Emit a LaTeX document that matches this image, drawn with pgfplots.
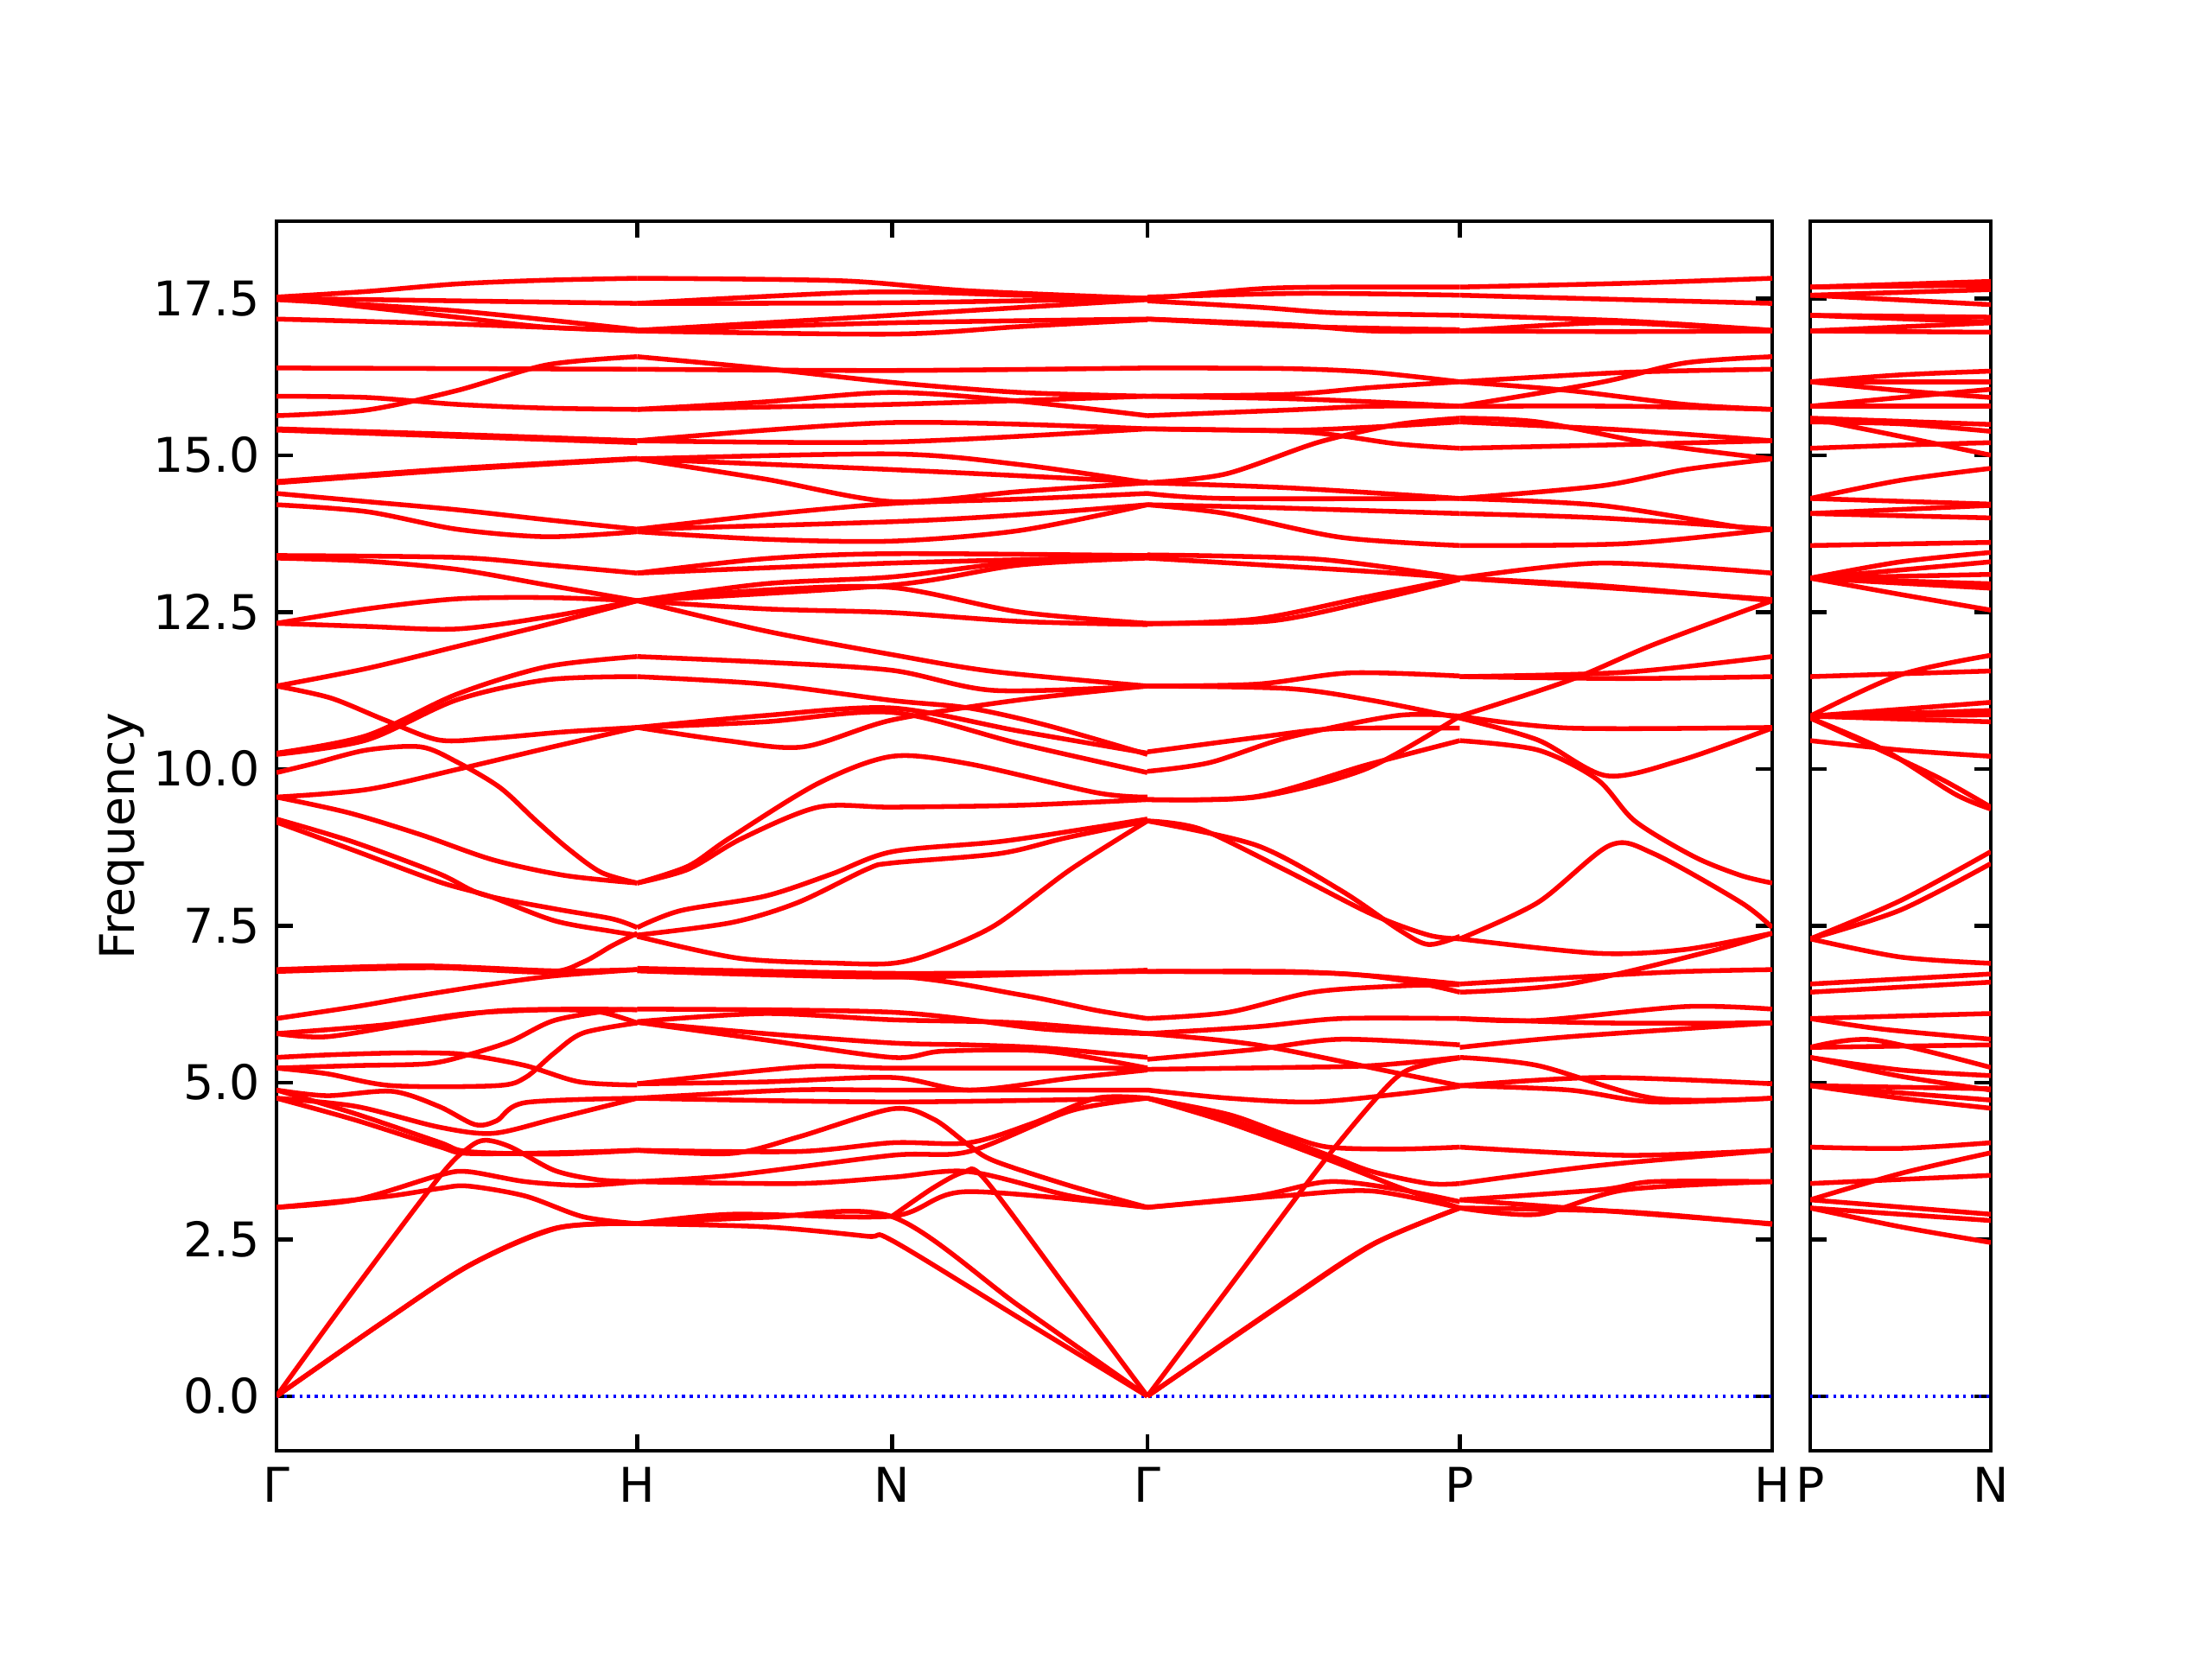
\documentclass[border=0pt]{standalone}
\usepackage{fontspec}
\setmainfont{DejaVu Sans}
\usepackage{pgfplots}
\pgfplotsset{compat=1.18}
\usetikzlibrary{calc}
\pgfplotsset{
  s1/.style={},
  s23/.style={x filter/.expression={1+0.707107*x}},
  s4/.style={x filter/.expression={2.414214+0.866025*x}},
  s5/.style={x filter/.expression={3.280239+0.866025*x}},
  s6/.style={x filter/.expression={0.5*x}},
  bandax/.style={
    scale only axis, height=3.5575in,
    ymin=-0.87, ymax=18.73,
    ytick={0,2.5,5,7.5,10,12.5,15,17.5},
    tick align=inside, xtick pos=both, ytick pos=both,
    xticklabel pos=lower, yticklabel pos=left,
    major tick length=3.5pt,
    tick style={black, line width=0.8pt},
    axis line style={line width=0.8pt},
    every axis plot/.append style={red, line width=1pt, smooth, mark=none},
    /pgf/number format/assume math mode=true,
    y tick label style={/pgf/number format/.cd, fixed, fixed zerofill, precision=1, /tikz/.cd},
    tick label style={font=\fontsize{10}{12}\selectfont},
    label style={font=\fontsize{10}{12}\selectfont},
  }
}
\newcommand\A[1]{\addplot[s1] coordinates {#1};}
\newcommand\B[1]{\addplot[s23] coordinates {#1};}
\newcommand\C[1]{\addplot[s4] coordinates {#1};}
\newcommand\D[1]{\addplot[s5] coordinates {#1};}
\newcommand\E[1]{\addplot[s6] coordinates {#1};}
\begin{document}
\begin{tikzpicture}
\begin{axis}[bandax, name=main, width=4.3275in,
  xmin=0, xmax=4.146264,
  xtick={0,1,1.707107,2.414214,3.280239,4.146264},
  xticklabels={Γ,H,N,Γ,P,H},
  ylabel={Frequency}, ylabel shift=-5pt]
\addplot[blue, line width=0.6pt, dash pattern=on 0.6pt off 1pt, sharp plot] coordinates {(0,0) (4.146264,0)};
% ---- Gamma -> H
\A{(0,17.52) (0.25,17.61) (0.5,17.73) (0.75,17.79) (1,17.82)}
\A{(0,17.50) (0.5,17.46) (1,17.42)}
\A{(0,17.52) (0.25,17.36) (0.5,17.2) (0.75,17.04) (1,16.99)}
\A{(0,17.17) (0.5,17.09) (1,16.98)}
\A{(0,17.48) (0.5,17.30) (1,17.0)}
\A{(0,16.39) (0.5,16.38) (1,16.37)}
\A{(0,15.63) (0.25,15.72) (0.5,16.03) (0.75,16.44) (1,16.57)}
\A{(0,15.94) (0.25,15.92) (0.5,15.81) (0.75,15.75) (1,15.73)}
\A{(0,15.42) (0.5,15.33) (1,15.23)}
\A{(0,15.40) (0.5,15.30) (1,15.20)}
\A{(0,14.56) (0.5,14.77) (1,14.94)}
\A{(0,14.58) (0.5,14.79) (1,14.95)}
\A{(0,14.39) (0.25,14.26) (0.5,14.13) (0.75,13.97) (1,13.82)}
\A{(0,14.21) (0.25,14.10) (0.5,13.82) (0.75,13.70) (1,13.78)}
\A{(0,13.40) (0.5,13.37) (0.75,13.25) (1,13.12)}
\A{(0,13.36) (0.25,13.31) (0.5,13.18) (0.75,12.93) (1,12.68)}
\A{(0,12.32) (0.25,12.55) (0.5,12.71) (0.75,12.73) (1,12.68)}
\A{(0,12.32) (0.25,12.27) (0.5,12.23) (0.75,12.42) (1,12.68)}
\A{(0,11.32) (0.25,11.6) (0.5,11.95) (0.75,12.3) (1,12.68)}
\A{(0,11.32) (0.15,11.13) (0.3,10.78) (0.45,10.46) (0.6,10.49) (0.8,10.59) (1,10.66)}
\A{(0,9.94) (0.1,10.08) (0.25,10.30) (0.4,10.35) (0.5,10.11) (0.62,9.70) (0.72,9.17) (0.81,8.72) (0.9,8.35) (1,8.18)}
\A{(0,10.23) (0.25,10.46) (0.5,11.1) (0.75,11.42) (1,11.47)}
\A{(0,10.25) (0.25,10.53) (0.5,11.19) (0.75,11.63) (1,11.79)}
\A{(0,9.55) (0.25,9.67) (0.5,9.99) (0.75,10.33) (1,10.66)}
\A{(0,9.55) (0.2,9.3) (0.4,8.95) (0.6,8.55) (0.8,8.3) (1,8.18)}
\A{(0,9.2) (0.21,8.84) (0.45,8.33) (0.57,8.0) (0.77,7.77) (0.93,7.61) (1,7.47)}
\A{(0,9.15) (0.21,8.71) (0.45,8.2) (0.59,7.97) (0.77,7.58) (0.93,7.41) (1,7.35)}
\A{(0,6.77) (0.43,6.83) (0.75,6.76) (0.85,6.92) (0.93,7.18) (1,7.38)}
\A{(0,6.80) (0.4,6.86) (0.77,6.78) (1,6.8)}
\A{(0,6.02) (0.22,6.21) (0.38,6.37) (0.6,6.57) (0.77,6.7) (1,6.8)}
\A{(0,5.78) (0.14,5.73) (0.38,5.95) (0.61,6.14) (0.85,6.17) (1,6.16)}
\A{(0,5.78) (0.3,5.92) (0.53,6.1) (0.77,6.16) (0.9,6.12) (1,5.95)}
\A{(0,5.23) (0.14,5.14) (0.32,4.95) (0.61,4.95) (0.69,5.08) (0.77,5.47) (0.85,5.79) (1,5.95)}
\A{(0,5.23) (0.22,5.27) (0.42,5.3) (0.53,5.44) (0.65,5.66) (0.77,5.99) (0.93,6.15) (1,6.16)}
\A{(0,5.40) (0.14,5.44) (0.32,5.47) (0.45,5.47) (0.53,5.44) (0.69,5.27) (0.84,5.01) (1,4.96)}
\A{(0,4.88) (0.14,4.79) (0.32,4.86) (0.45,4.62) (0.55,4.33) (0.61,4.39) (0.69,4.68) (1,4.75)}
\A{(0,4.75) (0.22,4.62) (0.45,4.29) (0.6,4.19) (0.77,4.42) (1,4.75)}
\A{(0,4.88) (0.22,4.5) (0.45,4.05) (0.53,3.9) (0.77,3.86) (1,3.92)}
\A{(0,4.75) (0.22,4.40) (0.45,3.98) (0.53,3.87) (0.77,3.88) (1,3.92)}
\A{(0,0) (0.2,1.58) (0.455,3.52) (0.535,3.97) (0.58,4.08) (0.65,3.97) (0.77,3.6) (0.89,3.45) (1,3.42)}
\A{(0,3.01) (0.22,3.13) (0.45,3.52) (0.53,3.58) (0.69,3.42) (0.85,3.36) (1,3.42)}
\A{(0,3.01) (0.3,3.18) (0.45,3.31) (0.53,3.35) (0.69,3.19) (0.85,2.86) (1,2.75)}
\A{(0,0) (0.295,1.18) (0.535,2.09) (0.774,2.68) (1,2.75)}
\A{(0,0) (0.3,1.2) (0.54,2.1) (0.78,2.68) (1,2.75)}
% ---- H -> N -> Gamma
\B{(0,17.82) (0.8,17.78) (1.3,17.62) (2,17.5)}
\B{(0,17.42) (0.9,17.60) (1.5,17.55) (2,17.5)}
\B{(0,17.42) (1,17.43) (2,17.5)}
\B{(0,16.99) (1,17.23) (2,17.48)}
\B{(0,16.99) (1,17.11) (2,17.17)}
\B{(0,16.98) (1,16.93) (1.5,17.05) (2,17.16)}
\B{(0,16.57) (0.5,16.38) (1,16.16) (1.5,16.0) (2,15.94)}
\B{(0,16.37) (1,16.35) (2,16.39)}
\B{(0,15.73) (1,15.81) (2,15.94)}
\B{(0,15.73) (0.5,15.85) (1,16.0) (1.5,15.86) (2,15.63)}
\B{(0,15.23) (1,15.21) (2,15.42)}
\B{(0,15.23) (1,15.52) (2,15.42)}
\B{(0,14.94) (1,15.02) (1.5,14.85) (2,14.56)}
\B{(0,14.94) (1,14.77) (2,14.57)}
\B{(0,14.94) (0.5,14.62) (1,14.26) (1.5,14.42) (2,14.56)}
\B{(0,13.82) (0.5,14.05) (1,14.23) (1.5,14.30) (2,14.39)}
\B{(0,13.82) (1,13.94) (1.5,14.05) (2,14.21)}
\B{(0,13.78) (0.5,13.66) (1,13.63) (1.5,13.80) (2,14.21)}
\B{(0,13.12) (0.5,13.35) (1,13.43) (2,13.40)}
\B{(0,13.12) (1,13.28) (2,13.38)}
\B{(0,12.68) (0.5,12.95) (1,13.06) (1.5,13.30) (2,13.37)}
\B{(0,12.68) (1,12.93) (1.5,13.25) (2,13.36)}
\B{(0,12.68) (0.5,12.85) (1,12.89) (1.5,12.50) (2,12.32)}
\B{(0,12.68) (0.5,12.55) (1,12.49) (1.5,12.35) (2,12.30)}
\B{(0,12.68) (0.5,12.2) (1,11.82) (1.4,11.55) (2,11.32)}
\B{(0,11.79) (0.5,11.7) (1,11.57) (1.4,11.25) (2,11.32)}
\B{(0,11.47) (0.5,11.35) (1,11.09) (1.3,10.97) (1.6,10.7) (2,10.23)}
\B{(0,10.66) (0.5,10.85) (1,10.97) (1.5,10.6) (2,10.25)}
\B{(0,10.66) (0.5,10.75) (1,10.9) (1.5,10.4) (2,9.94)}
\B{(0,10.66) (0.35,10.45) (0.65,10.35) (1,10.78) (1.5,11.1) (2,11.32)}
\B{(0,8.18) (0.2,8.45) (0.36,8.89) (0.71,9.77) (1,10.2) (1.3,10.08) (1.8,9.62) (2,9.55)}
\B{(0,8.18) (0.2,8.4) (0.41,8.89) (0.71,9.39) (1,9.39) (1.5,9.42) (2,9.51)}
\B{(0,7.47) (0.17,7.74) (0.5,7.97) (0.76,8.32) (1,8.68) (1.42,8.84) (1.8,9.07) (2,9.2)}
\B{(0,7.35) (0.37,7.55) (0.63,7.87) (0.9,8.4) (1,8.5) (1.42,8.65) (1.68,8.9) (2,9.17)}
\B{(0,7.33) (0.4,6.98) (0.8,6.9) (1,6.9) (1.15,7.05) (1.4,7.5) (1.7,8.4) (2,9.17)}
\B{(0,6.82) (1,6.74) (2,6.77)}
\B{(0,6.8) (1,6.7) (1.5,6.4) (1.8,6.15) (2,6.02)}
\B{(0,6.78) (1,6.68) (2,6.79)}
\B{(0,6.17) (1,6.12) (1.6,5.85) (2,5.78)}
\B{(0,5.97) (0.5,6.1) (1,6.0) (1.5,5.95) (2,5.78)}
\B{(0,5.96) (0.5,5.78) (1,5.63) (1.3,5.6) (1.6,5.55) (2,5.40)}
\B{(0,5.96) (0.5,5.68) (1,5.40) (1.2,5.5) (1.6,5.5) (2,5.23)}
\B{(0,4.98) (0.65,5.25) (1,5.23) (2,5.23)}
\B{(0,4.98) (0.5,5.01) (1,5.08) (1.3,4.88) (1.7,5.07) (2,5.2)}
\B{(0,4.75) (1,4.69) (2,4.75)}
\B{(0,4.75) (0.6,4.88) (1,4.88) (2,4.88)}
\B{(0,3.92) (0.37,3.87) (0.63,4.13) (1,4.58) (1.16,4.42) (1.3,4.0) (1.4,3.75) (1.7,3.35) (2,3.01)}
\B{(0,3.92) (0.63,3.90) (1,4.04) (1.3,4.04) (1.55,4.35) (1.8,4.75) (2,4.75)}
\B{(0,3.42) (0.37,3.52) (1,3.84) (1.3,3.9) (1.7,4.55) (2,4.75)}
\B{(0,3.42) (0.63,3.39) (1,3.49) (1.3,3.58) (1.7,3.19) (2,3.01)}
\B{(0,2.75) (0.37,2.9) (1,2.87) (1.29,3.26) (2,3.01)}
\B{(0,2.75) (0.5,2.85) (1,2.86) (1.5,1.43) (2,0)}
\B{(0,2.75) (0.5,2.7) (0.9,2.55) (1,2.48) (1.5,1.24) (2,0)}
\B{(1,2.87) (1.16,3.32) (1.28,3.57) (1.36,3.47) (1.68,1.74) (2,0)}
% ---- Gamma -> P
\C{(0,17.49) (0.35,17.65) (0.6,17.68) (1,17.68)}
\C{(0,17.52) (0.5,17.58) (1,17.55)}
\C{(0,17.46) (0.35,17.36) (0.6,17.27) (1,17.23)}
\C{(0,17.17) (0.45,17.08) (0.72,16.98) (1,16.98)}
\C{(0,17.17) (0.5,17.05) (1,17.0)}
\C{(0,16.39) (0.45,16.38) (0.72,16.32) (1,16.17)}
\C{(0,15.94) (0.45,15.97) (0.72,16.08) (1,16.17)}
\C{(0,15.63) (0.45,15.72) (0.72,15.78) (1,15.78)}
\C{(0,15.94) (0.45,15.90) (0.72,15.85) (1,15.78)}
\C{(0,15.42) (0.5,15.37) (0.8,15.18) (1,15.11)}
\C{(0,15.42) (0.5,15.40) (1,15.53)}
\C{(0,14.56) (0.25,14.7) (0.55,15.21) (0.8,15.49) (1,15.59)}
\C{(0,14.56) (0.45,14.48) (1,14.31)}
\C{(0,14.39) (0.25,14.31) (1,14.31)}
\C{(0,14.21) (0.35,14.17) (1,14.07)}
\C{(0,14.21) (0.25,14.07) (0.62,13.69) (1,13.56)}
\C{(0,13.41) (0.55,13.34) (1,13.04)}
\C{(0,13.36) (0.7,13.15) (1,13.04)}
\C{(0,12.31) (0.35,12.39) (0.7,12.74) (1,13.04)}
\C{(0,12.32) (0.4,12.36) (0.75,12.72) (1,13.02)}
\C{(0,11.32) (0.35,11.35) (0.65,11.53) (1,11.48)}
\C{(0,11.32) (0.45,11.28) (0.72,11.09) (1,10.81)}
\C{(0,10.27) (0.35,10.5) (0.6,10.64) (1,10.65)}
\C{(0,9.96) (0.2,10.1) (0.45,10.5) (0.8,10.85) (1,10.84)}
\C{(0,9.51) (0.35,9.56) (0.7,10.06) (1,10.45)}
\C{(0,9.51) (0.35,9.55) (0.7,10.0) (1,10.84)}
\C{(0,9.17) (0.17,9.04) (0.44,8.39) (0.72,7.68) (0.9,7.35) (1,7.29)}
\C{(0,9.17) (0.35,8.78) (0.62,8.06) (0.81,7.42) (0.9,7.2) (1,7.33)}
\C{(0,6.77) (0.45,6.77) (0.72,6.70) (1,6.57)}
\C{(0,6.77) (0.6,6.74) (0.85,6.6) (1,6.44)}
\C{(0,6.02) (0.26,6.12) (0.53,6.44) (0.81,6.54) (1,6.56)}
\C{(0,5.78) (0.35,5.89) (0.62,6.02) (1,6.02)}
\C{(0,5.78) (0.35,5.6) (0.81,5.14) (1,4.95)}
\C{(0,5.37) (0.35,5.53) (0.62,5.69) (1,5.6)}
\C{(0,5.21) (0.45,5.24) (0.72,5.27) (1,5.40)}
\C{(0,4.88) (0.26,4.75) (0.53,4.69) (0.81,4.82) (1,4.94)}
\C{(0,4.75) (0.26,4.49) (0.44,4.17) (0.58,3.97) (0.81,3.94) (1,3.97)}
\C{(0,4.75) (0.26,4.42) (0.58,3.84) (0.72,3.58) (0.9,3.39) (1,3.39)}
\C{(0,4.75) (0.26,4.36) (0.58,3.77) (0.81,3.32) (1,3.0)}
\C{(0,0) (0.3,1.99) (0.58,3.84) (0.79,5.05) (0.9,5.3) (1,5.39)}
\C{(0,3.01) (0.35,3.19) (0.58,3.42) (0.8,3.3) (1,3.1)}
\C{(0,3.01) (0.45,3.2) (0.72,3.27) (1,3.0)}
\C{(0,0) (0.44,1.51) (0.72,2.42) (1,3.0)}
\C{(0,0) (0.45,1.53) (0.73,2.44) (1,3.0)}
% ---- P -> H
\D{(0,17.68) (0.53,17.74) (1,17.82)}
\D{(0,17.55) (0.45,17.49) (1,17.42)}
\D{(0,17.23) (0.53,17.14) (1,16.99)}
\D{(0,16.98) (0.45,17.11) (0.81,17.04) (1,16.99)}
\D{(0,16.98) (0.5,16.97) (1,16.98)}
\D{(0,16.17) (0.53,16.32) (1,16.37)}
\D{(0,16.17) (0.35,16.03) (0.72,15.81) (1,15.73)}
\D{(0,15.78) (0.45,16.16) (0.72,16.47) (1,16.57)}
\D{(0,15.78) (0.53,15.78) (1,15.73)}
\D{(0,15.59) (0.25,15.53) (0.62,15.18) (1,14.94)}
\D{(0,15.53) (0.53,15.40) (1,15.23)}
\D{(0,15.11) (0.45,15.16) (1,15.23)}
\D{(0,14.31) (0.45,14.51) (0.72,14.77) (1,14.94)}
\D{(0,14.31) (0.45,14.2) (0.9,13.85) (1,13.82)}
\D{(0,14.07) (0.45,14.0) (1,13.82)}
\D{(0,13.56) (0.53,13.59) (1,13.82)}
\D{(0,13.04) (0.45,13.28) (1,13.12)}
\D{(0,13.04) (0.45,12.92) (1,12.68)}
\D{(0,13.04) (0.55,12.86) (1,12.70)}
\D{(0,11.47) (0.53,11.54) (1,11.79)}
\D{(0,11.47) (0.53,11.44) (1,11.47)}
\D{(0,10.84) (0.35,11.41) (0.62,11.98) (1,12.68)}
\D{(0,10.84) (0.35,10.65) (1,10.66)}
\D{(0,10.81) (0.25,10.46) (0.47,9.89) (0.71,10.14) (1,10.65)}
\D{(0,10.45) (0.25,10.3) (0.44,9.83) (0.56,9.17) (0.75,8.6) (0.9,8.3) (1,8.18)}
\D{(0,7.29) (0.25,7.87) (0.48,8.78) (0.62,8.65) (0.9,7.87) (1,7.47)}
\D{(0,7.29) (0.44,7.06) (0.72,7.12) (1,7.38)}
\D{(0,6.57) (0.44,6.7) (0.72,6.77) (1,6.8)}
\D{(0,6.44) (0.35,6.57) (0.8,7.09) (1,7.38)}
\D{(0,6.02) (0.25,5.99) (0.72,6.21) (1,6.17)}
\D{(0,6.02) (0.45,5.95) (1,5.95)}
\D{(0,5.56) (0.35,5.73) (1,5.95)}
\D{(0,5.40) (0.25,5.27) (0.62,4.75) (1,4.75)}
\D{(0,4.95) (0.45,5.08) (1,4.98)}
\D{(0,4.95) (0.35,4.88) (0.62,4.69) (1,4.75)}
\D{(0,3.97) (0.53,3.84) (1,3.92)}
\D{(0,3.39) (0.45,3.68) (1,3.92)}
\D{(0,3.13) (0.45,3.29) (0.62,3.42) (1,3.42)}
\D{(0,3.0) (0.25,2.9) (0.53,3.29) (1,3.42)}
\D{(0,3.13) (0.35,3.0) (1,2.75)}
\D{(0,3.0) (0.53,2.94) (1,2.74)}
\end{axis}
\begin{axis}[bandax, at={($(main.south east)+(0.11in,0)$)}, anchor=south west,
  width=0.5225in, xmin=0, xmax=0.5,
  xtick={0,0.5}, xticklabels={P,N}, yticklabels={}]
\addplot[blue, line width=0.6pt, dash pattern=on 0.6pt off 1pt, sharp plot] coordinates {(0,0) (0.5,0)};
\E{(0,17.68) (1,17.77)}
\E{(0,17.68) (1,17.71)}
\E{(0,17.55) (1,17.64)}
\E{(0,17.55) (1,17.40)}
\E{(0,17.23) (1,17.20)}
\E{(0,17.23) (1,17.12)}
\E{(0,16.98) (1,17.11)}
\E{(0,16.98) (1,16.96)}
\E{(0,16.17) (0.5,16.28) (1,16.34)}
\E{(0,16.17) (1,16.17)}
\E{(0,16.17) (0.5,16.03) (1,15.92)}
\E{(0,15.78) (0.5,15.92) (1,16.05)}
\E{(0,15.78) (1,15.78)}
\E{(0,15.59) (1,15.49)}
\E{(0,15.53) (0.5,15.50) (1,15.38)}
\E{(0,15.11) (0.5,15.16) (1,15.2)}
\E{(0,15.59) (0.5,15.3) (1,15.0)}
\E{(0,14.31) (0.5,14.6) (1,14.79)}
\E{(0,14.31) (1,14.22)}
\E{(0,14.07) (1,14.2)}
\E{(0,14.07) (1,14.0)}
\E{(0,13.56) (1,13.61)}
\E{(0,13.04) (0.5,13.3) (1,13.45)}
\E{(0,13.04) (1,13.3)}
\E{(0,13.04) (1,13.1)}
\E{(0,13.04) (1,12.95)}
\E{(0,13.04) (1,12.88)}
\E{(0,13.04) (0.5,12.78) (1,12.53)}
\E{(0,11.47) (1,11.56)}
\E{(0,10.84) (0.5,11.5) (1,11.81)}
\E{(0,10.84) (0.5,10.95) (1,11.06)}
\E{(0,10.84) (1,10.93)}
\E{(0,10.84) (1,10.86)}
\E{(0,10.84) (1,10.75)}
\E{(0,10.45) (0.5,10.3) (1,10.2)}
\E{(0,10.81) (0.41,10.27) (0.73,9.83) (1,9.39)}
\E{(0,10.81) (0.41,10.3) (0.8,9.6) (1,9.36)}
\E{(0,7.29) (0.5,7.9) (1,8.68)}
\E{(0,7.29) (0.5,7.75) (1,8.49)}
\E{(0,7.29) (0.5,7.0) (1,6.9)}
\E{(0,6.57) (1,6.73)}
\E{(0,6.44) (1,6.6)}
\E{(0,6.02) (1,6.1)}
\E{(0,6.02) (0.4,5.85) (1,5.69)}
\E{(0,5.56) (0.35,5.68) (1,5.24)}
\E{(0,5.56) (1,5.6)}
\E{(0,5.40) (0.5,5.2) (1,5.11)}
\E{(0,5.40) (0.5,5.1) (1,4.88)}
\E{(0,4.95) (1,4.9)}
\E{(0,4.95) (0.5,4.75) (1,4.59)}
\E{(0,4.95) (1,4.72)}
\E{(0,3.97) (0.5,3.95) (1,4.04)}
\E{(0,3.39) (1,3.52)}
\E{(0,3.13) (0.5,3.55) (1,3.88)}
\E{(0,3.13) (1,2.9)}
\E{(0,3.0) (1,2.8)}
\E{(0,3.0) (0.5,2.7) (1,2.45)}
\end{axis}
\path (main.south west) ++(-0.8in,-0.6025in) rectangle ++(6.4in,4.8in);
\end{tikzpicture}
\end{document}
